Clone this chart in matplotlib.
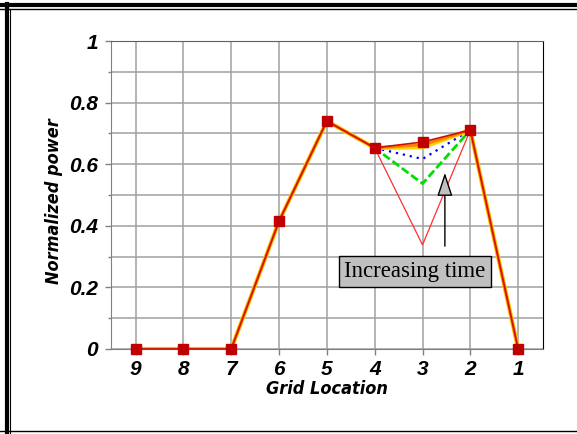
import matplotlib
matplotlib.use('Agg')
import matplotlib.pyplot as plt
from matplotlib.lines import Line2D
from matplotlib.font_manager import FontProperties
import numpy as np

# grid locations as drawn left to right
locations = ['9', '8', '7', '6', '5', '4', '3', '2', '1']

# normalized power, one list per time step (earliest first)
power_t1 = [0, 0, 0, 0.415, 0.74, 0.653, 0.338, 0.711, 0]
power_t2 = [0, 0, 0, 0.415, 0.74, 0.653, 0.537, 0.711, 0]
power_t3 = [0, 0, 0, 0.415, 0.74, 0.653, 0.617, 0.711, 0]
power_t4 = [0, 0, 0, 0.415, 0.74, 0.653, 0.655, 0.711, 0]
power_t5 = [0, 0, 0, 0.415, 0.74, 0.653, 0.663, 0.711, 0]
power_t6 = [0, 0, 0, 0.415, 0.74, 0.653, 0.672, 0.711, 0]

y_ticks = [0, 0.2, 0.4, 0.6, 0.8, 1]
y_tick_labels = ['0', '0.2', '0.4', '0.6', '0.8', '1']

fig = plt.figure(figsize=(5.77, 4.34), dpi=100)
ax = fig.add_axes([0.1919, 0.1959, 0.7492, 0.7096])

x = np.arange(len(locations))

ax.plot(x, power_t1, color='#ff3030', lw=0.9, zorder=3)
ax.plot(x, power_t2, color='#00e000', lw=2, dashes=(3, 1.2), zorder=3)
ax.plot(x, power_t3, color='#0000ff', lw=1.6, dashes=(1, 2.2), zorder=3)
ax.plot(x, power_t4, color='#ffd000', lw=3, zorder=4)
ax.plot(x, power_t5, color='#ff8000', lw=2, zorder=4)
ax.plot(x, power_t6, color='#d01000', lw=1.2, marker='s', ms=7,
        mfc='#c00000', mec='#c00000', zorder=5, clip_on=False)

ax.set_xlim(-0.52, len(locations) - 0.48)
ax.set_ylim(0, 1)
ax.set_xticks(x)
ax.set_xticklabels(locations)
ax.set_yticks(y_ticks)
ax.set_yticklabels(y_tick_labels)
ax.set_yticks(np.arange(0.1, 1.0, 0.2), minor=True)

tickfont = FontProperties(family='Liberation Sans', weight='bold', style='italic', size=15)
for lab in ax.get_xticklabels() + ax.get_yticklabels():
    lab.set_fontproperties(tickfont)

ax.tick_params(axis='x', length=4, width=1, color='#808080', pad=4)
ax.tick_params(axis='y', which='major', length=4, width=1, color='#808080', pad=5)
ax.tick_params(axis='y', which='minor', length=2, width=1, color='#808080')

ax.grid(True, which='both', color='#a0a0a0', lw=1.1, zorder=0)
ax.set_axisbelow(True)

for side in ['left', 'bottom']:
    ax.spines[side].set_color('#808080')
ax.spines['top'].set_color('#606060')
ax.spines['right'].set_color('black')

labfont = FontProperties(family='DejaVu Sans', stretch='condensed',
                         weight='bold', style='italic', size=13)
ax.set_xlabel('Grid Location', labelpad=1, fontproperties=labfont)
ax.set_ylabel('Normalized power', fontproperties=labfont)
ax.yaxis.set_label_coords(-0.11, 0.48)

# annotation
ax.text(0.704, 0.252, 'Increasing time', transform=ax.transAxes,
        ha='center', va='center', family='Liberation Serif', size=16.5,
        bbox=dict(boxstyle='square,pad=0.22', fc='#c0c0c0', ec='black', lw=1))
ax.annotate('', xy=(0.773, 0.572), xytext=(0.773, 0.334),
            xycoords='axes fraction', textcoords='axes fraction',
            arrowprops=dict(arrowstyle='-|>,head_length=1.0,head_width=0.33',
                            mutation_scale=14.5, fc='#c0c0c0', ec='black',
                            lw=1, shrinkA=0, shrinkB=0))

# outer frame
fig.add_artist(Line2D([0, 1], [1 - 5.3 / 434] * 2, transform=fig.transFigure,
                      color='black', lw=3))
fig.add_artist(Line2D([0, 1], [1 - 9.3 / 434] * 2, transform=fig.transFigure,
                      color='black', lw=1))
fig.add_artist(Line2D([7 / 577] * 2, [0, 1 - 3.5 / 434], transform=fig.transFigure,
                      color='black', lw=3))
fig.add_artist(Line2D([9.6 / 577] * 2, [0, 1 - 9.3 / 434], transform=fig.transFigure,
                      color='black', lw=0.8))
fig.add_artist(Line2D([0, 1], [1 - 431 / 434] * 2, transform=fig.transFigure,
                      color='black', lw=1))

fig.savefig('out.png', dpi=100)
